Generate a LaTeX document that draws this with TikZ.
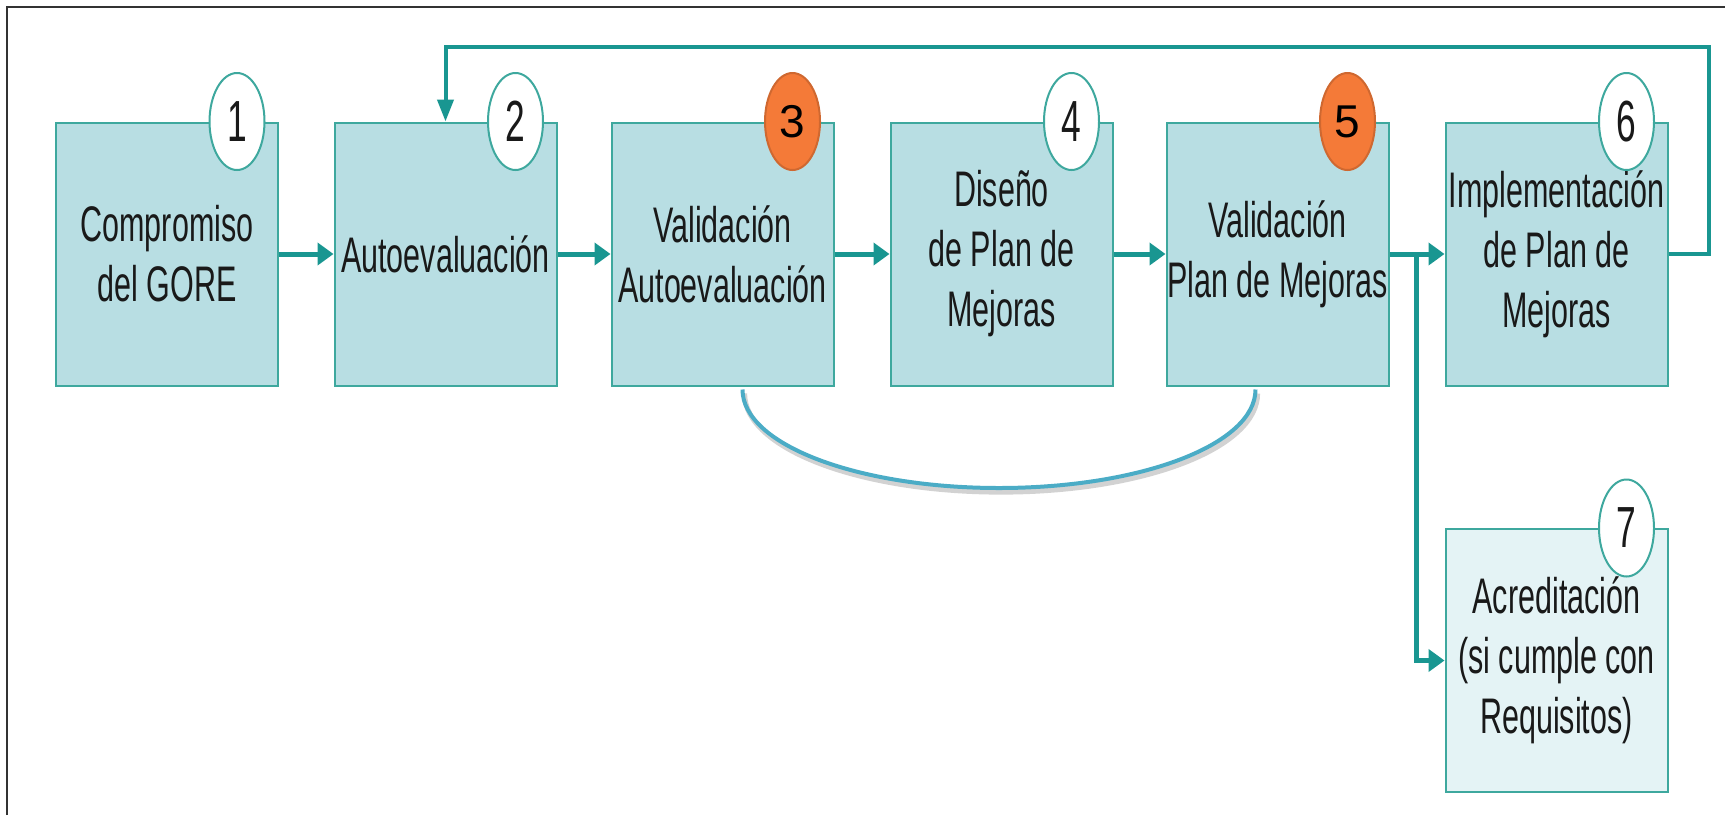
\documentclass[tikz,border=0pt]{standalone}
\usepackage{fontspec}
\setmainfont{Liberation Sans}[FakeStretch=0.61]
\newfontfamily\plainfont{Liberation Sans}
\usetikzlibrary{arrows.meta,shapes.geometric}
\definecolor{tealline}{RGB}{25, 150, 145}
\definecolor{tealborder}{RGB}{62, 168, 158}
\definecolor{tealfill}{RGB}{184, 222, 227}
\definecolor{palefill}{RGB}{228, 243, 245}
\definecolor{tangerine}{RGB}{244, 122, 56}
\definecolor{skyblue}{RGB}{75, 172, 198}
\definecolor{framegray}{RGB}{51, 51, 51}
\tikzset{
  stage/.style={draw=tealborder, fill=tealfill, line width=1pt, minimum width=111pt, minimum height=131.5pt,
                inner sep=0pt, align=center, text=black!90, font=\fontsize{25}{30}\selectfont},
  badge/.style={ellipse, draw=tealborder, fill=white, line width=1pt, minimum width=27.5pt, minimum height=48.5pt,
                inner sep=0pt, text=black!90, font=\fontsize{29}{29}\selectfont},
  hotbadge/.style={badge, draw=tangerine!85!black, fill=tangerine, text=black, font=\plainfont\fontsize{23}{23}\selectfont},
  flow/.style={draw=tealline, line width=2.5pt, -{Triangle[length=8pt,width=11pt]}},
  feedback/.style={draw=tealline, line width=2pt, -{Triangle[length=11pt,width=8pt]}},
  bracket/.style={draw=skyblue, line width=2pt}
}

\begin{document}
\begin{tikzpicture}[x=0.5pt, y=-0.5pt]
            \useasboundingbox (0,0) rectangle (1725,815);
            \draw[framegray, line width=1.2pt] (7,815) -- (7,7) -- (1725,7);

            \node[stage]               (b1) at ( 167.0,254.0) {Compromiso\\del GORE};
            \node[stage]               (b2) at ( 445.5,254.0) {Autoevaluación};
            \node[stage]               (b3) at ( 722.5,254.0) {Validación\\Autoevaluación};
            \node[stage]               (b4) at (1001.5,254.0) {Diseño\\de Plan de\\Mejoras};
            \node[stage]               (b5) at (1277.5,254.0) {Validación\\Plan de Mejoras};
            \node[stage]               (b6) at (1556.5,254.0) {Implementación\\de Plan de\\Mejoras};
            \node[stage, fill=palefill] (b7) at (1556.5,660.5) {Acreditación\\(si cumple con\\Requisitos)};

            \foreach \i in {1,2,4,6,7}
                \node[badge]    (n\i) at ([xshift=-21pt]b\i.north east) {\i};
            \foreach \i in {3,5}
                \node[hotbadge] (n\i) at ([xshift=-21pt]b\i.north east) {\i};

            \foreach \a/\b in {b1/b2, b2/b3, b3/b4, b4/b5, b5/b6}
                \draw[flow] (\a.east) -- (\b.west);

            \coordinate (split)  at (1416,254);
            \coordinate (corner) at (1709,47);
            \draw[flow]     (split) |- (b7.west);
            \draw[feedback] (b6.east) -| (corner) -| (b2.north);

            \coordinate (arcL) at ([xshift=10pt,yshift=-1.5pt]b3.south);
            \coordinate (arcR) at ([xshift=-11pt,yshift=-1.5pt]b5.south);
            \coordinate (arcM) at (999,488);
            \draw[gray!70, opacity=0.5, line width=2.6pt, transform canvas={xshift=1pt,yshift=-2pt}]
                 (arcL) .. controls +(0,55) and +(-141.7,0) .. (arcM) .. controls +(141.7,0) and +(0,55) .. (arcR);
            \draw[bracket]
                 (arcL) .. controls +(0,55) and +(-141.7,0) .. (arcM) .. controls +(141.7,0) and +(0,55) .. (arcR);
        \end{tikzpicture}
\end{document}
